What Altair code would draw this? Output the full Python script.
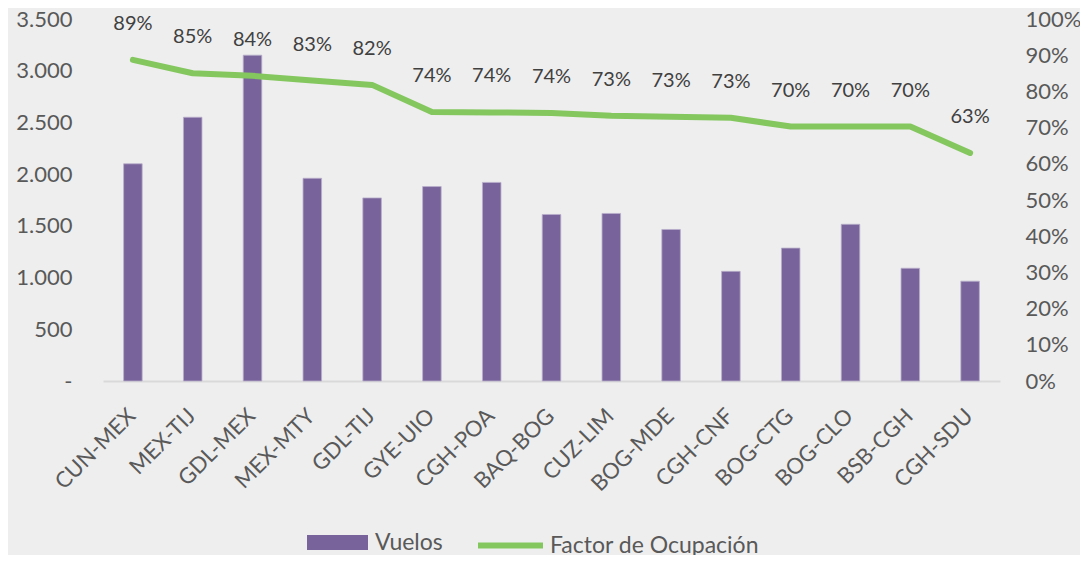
import altair as alt
import pandas as pd

rutas = ["CUN-MEX", "MEX-TIJ", "GDL-MEX", "MEX-MTY", "GDL-TIJ", "GYE-UIO", "CGH-POA",
         "BAQ-BOG", "CUZ-LIM", "BOG-MDE", "CGH-CNF", "BOG-CTG", "BOG-CLO", "BSB-CGH", "CGH-SDU"]
vuelos = [2100, 2550, 3150, 1960, 1770, 1880, 1920, 1610, 1620, 1465, 1060, 1285, 1515, 1090, 965]
factor = [0.887, 0.850, 0.843, 0.830, 0.818, 0.743, 0.742, 0.740, 0.733, 0.730, 0.727,
          0.703, 0.703, 0.703, 0.630]

df = pd.DataFrame({"ruta": rutas, "vuelos": vuelos, "factor": factor,
                   "serie_b": "Vuelos", "serie_l": "Factor de Ocupación"})

FONT = "Lato"
TXT = "#595959"
PURPLE = "#78639A"
GREEN = "#84C75F"

x = alt.X("ruta:N", sort=rutas, title=None,
          scale=alt.Scale(paddingInner=0.69, paddingOuter=0.345),
          axis=alt.Axis(labelAngle=-45, labelFontSize=22, labelColor=TXT, labelFont=FONT,
                        ticks=False, domainColor="#D9D9D9", domainWidth=2, labelPadding=24,
                        labelOffset=-8))

right_axis = alt.Axis(orient="right", values=[i / 10 for i in range(11)], format=".0%",
                      grid=False, domain=False, ticks=False, labelFontSize=22,
                      labelColor=TXT, labelFont=FONT, labelPadding=25, title=None)
right_scale = alt.Scale(domain=[0, 1], nice=False)

bars = alt.Chart(df).mark_bar(stroke="#B9AECB", strokeWidth=0.8).encode(
    x=x,
    y=alt.Y("vuelos:Q", title=None,
            scale=alt.Scale(domain=[0, 3500], nice=False),
            axis=alt.Axis(values=list(range(0, 3501, 500)), grid=False, domain=False, ticks=False,
                          labelFontSize=22, labelColor=TXT, labelFont=FONT, labelPadding=31,
                          labelExpr="datum.value == 0 ? '-\u00a0\u00a0\u00a0' : replace(format(datum.value, ','), ',', '.')")),
    fill=alt.Fill("serie_b:N", title=None,
                  scale=alt.Scale(domain=["Vuelos"], range=[PURPLE]),
                  legend=alt.Legend(orient="none", legendX=204, legendY=493,
                                    symbolType="M-1,-0.246H1V0.246H-1Z", symbolSize=3721,
                                    symbolStrokeWidth=0, labelFontSize=23, labelFont=FONT,
                                    labelColor=TXT, labelOffset=7, labelLimit=400)),
)

line = alt.Chart(df).mark_line(strokeWidth=6, strokeCap="round", strokeJoin="round").encode(
    x=x,
    y=alt.Y("factor:Q", title=None, scale=right_scale, axis=right_axis),
    stroke=alt.Stroke("serie_l:N", title=None,
                      scale=alt.Scale(domain=["Factor de Ocupación"], range=[GREEN]),
                      legend=alt.Legend(orient="none", legendX=372, legendY=491,
                                        symbolType="stroke", symbolSize=4225,
                                        symbolStrokeWidth=6, labelFontSize=23, labelFont=FONT,
                                        labelColor=TXT, labelOffset=4, labelLimit=400)),
)

labels = alt.Chart(df).mark_text(dy=-36, fontSize=20, font=FONT, color="#404040").encode(
    x=x,
    y=alt.Y("factor:Q", title=None, scale=right_scale, axis=right_axis),
    text=alt.Text("factor:Q", format=".0%"),
)

right = alt.layer(line, labels)
chart = alt.layer(bars, right).resolve_scale(y="independent", fill="independent", stroke="independent").properties(
    width=897, height=362,
    autosize=alt.AutoSizeParams(type="none"),
    padding={"left": 95, "top": 11, "right": 80, "bottom": 174},
    background="#EEEEEE",
).configure_view(stroke=None)

chart.save("out.html", embed_options={"renderer": "svg", "actions": False})
